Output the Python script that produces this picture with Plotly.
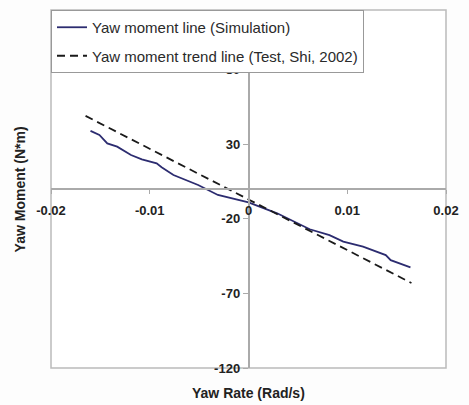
import plotly.graph_objects as go

# Simulation line
sim_x = [-0.0160, -0.0151, -0.0143, -0.0133, -0.0119, -0.0108, -0.0093, -0.0088,
         -0.0076, -0.0051, -0.0031, -0.0021, 0.0, 0.0029, 0.0049, 0.0062, 0.0082,
         0.0096, 0.0116, 0.0139, 0.0144, 0.0164]
sim_y = [39.0, 36.2, 30.6, 28.4, 22.8, 19.9, 17.2, 14.6,
         9.4, 2.7, -4.0, -5.5, -9.0, -16.3, -23.0, -27.0, -30.9,
         -35.3, -38.7, -44.3, -47.7, -52.5]

# Trend line (Test, Shi, 2002)
trend_x = [-0.0165, 0.0165]
trend_y = [49.0, -63.0]

x_ticks = [-0.02, -0.01, 0, 0.01, 0.02]
x_tick_text = ["-0.02", "-0.01", "0", "0.01", "0.02"]
y_ticks = [-120, -70, -20, 30, 80]
y_tick_text = ["-120", "-70", "-20", "30", "80"]

FONT = "Arial, Liberation Sans, sans-serif"

fig = go.Figure()
fig.add_trace(go.Scatter(x=sim_x, y=sim_y, mode="lines",
                         name="Yaw moment line (Simulation)",
                         line=dict(color="#2c2c70", width=1.8),
                         legendgroup="a"))
fig.add_trace(go.Scatter(x=trend_x, y=trend_y, mode="lines",
                         name="Yaw moment trend line (Test, Shi, 2002)",
                         line=dict(color="#1a1a1a", width=1.8, dash="8px,5px"),
                         legendgroup="b"))

axis_font = dict(family=FONT, size=13, color="#222")

fig.update_layout(
    width=469, height=405,
    margin=dict(l=51, r=18, t=10, b=37),
    paper_bgcolor="#fdfdfd", plot_bgcolor="white",
    showlegend=True,
    legend=dict(x=0, y=1, xanchor="left", yanchor="top",
                bgcolor="white", bordercolor="#999", borderwidth=1,
                font=dict(family=FONT, size=15, color="#2a2a2a"),
                tracegroupgap=6),
    xaxis=dict(range=[-0.02, 0.02], tickvals=x_ticks,
               ticktext=["<b>%s</b>" % t for t in x_tick_text],
               showgrid=False, zeroline=False, showline=True, linecolor="#aaa",
               linewidth=1.5, anchor="free", position=0.5,
               ticks="outside", ticklen=4, tickcolor="#aaa",
               ticklabelstandoff=6,
               tickfont=axis_font),
    yaxis=dict(range=[-120, 120], tickvals=y_ticks,
               ticktext=["<b>%s</b>" % t for t in y_tick_text],
               showgrid=False, zeroline=False, showline=True, linecolor="#aaa",
               linewidth=1.5, anchor="free", position=0.5,
               ticks="outside", ticklen=5, tickcolor="#aaa",
               tickfont=axis_font),
    shapes=[dict(type="rect", xref="paper", yref="paper", x0=0, x1=1, y0=0, y1=1,
                 line=dict(color="#bbb", width=1.5), layer="below")],
    annotations=[
        dict(text="<b>Yaw Rate (Rad/s)</b>", xref="paper", yref="paper", x=0.5, y=-0.07,
             xanchor="center", yanchor="middle", showarrow=False,
             font=dict(family=FONT, size=14, color="#222")),
        dict(text="<b>Yaw Moment (N*m)</b>", xref="paper", yref="paper", x=-0.0775, y=0.5,
             xanchor="center", yanchor="middle", showarrow=False, textangle=-90,
             font=dict(family=FONT, size=14, color="#222")),
    ],
)

fig.write_html("out.html")
